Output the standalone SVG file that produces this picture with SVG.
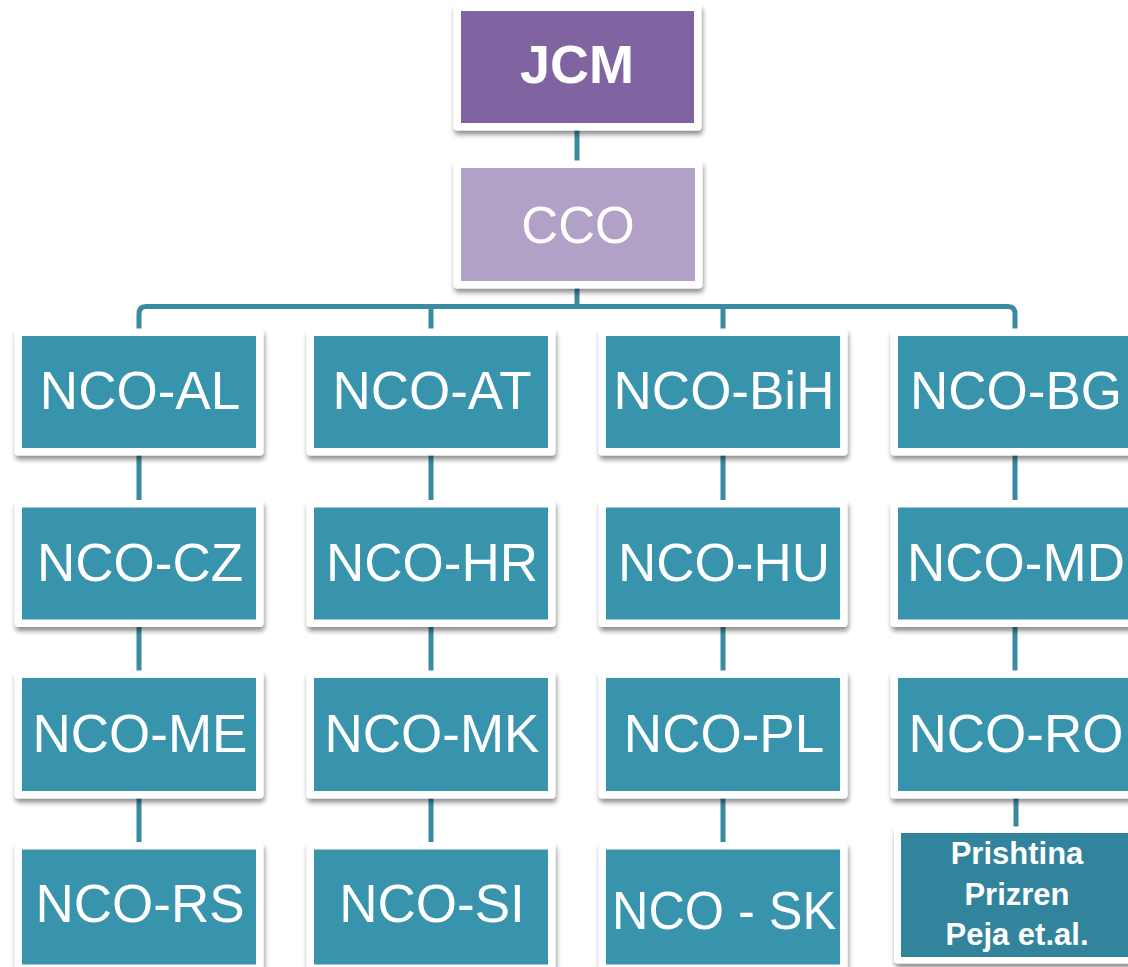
<svg xmlns="http://www.w3.org/2000/svg" width="1128" height="967" viewBox="0 0 1128 967">
<defs>
<filter id="sh" x="-10%" y="-10%" width="130%" height="140%">
<feGaussianBlur in="SourceAlpha" stdDeviation="2.5"/>
<feOffset dx="1" dy="4" result="o"/>
<feComponentTransfer><feFuncA type="linear" slope="0.45"/></feComponentTransfer>
<feMerge><feMergeNode/><feMergeNode in="SourceGraphic"/></feMerge>
</filter>
</defs>
<style>
.frame{fill:#ffffff;filter:url(#sh)}
.teal{fill:#3893AD}
.dark{fill:#31849B}
.lbl{font-family:"Liberation Sans",Arial,sans-serif;font-size:53px;fill:#ffffff;text-anchor:middle}
.small{font-family:"Liberation Sans",Arial,sans-serif;font-size:31px;font-weight:bold;fill:#ffffff;text-anchor:middle}
.conn{fill:none;stroke:#3A8AA1;stroke-width:5;stroke-linejoin:round}
</style>
<rect width="1128" height="967" fill="#ffffff"/>
<g id="connectors" class="conn">
<path d="M577,123 V306.5"/>
<path d="M139,340 V314 Q139,306.5 146,306.5 H1008 Q1015,306.5 1015,314 V340"/>
<path d="M431,306.5 V340"/>
<path d="M723,306.5 V340"/>
<path d="M139,448 V850"/>
<path d="M431,448 V850"/>
<path d="M723,448 V850"/>
<path d="M1015,448 V791"/>
<path d="M1016,798 V834"/>
</g>
<g id="jcm">
<rect class="frame" x="453.5" y="3.5" width="248" height="127" rx="4"/>
<rect x="461" y="11" width="233" height="112" fill="#8064A2"/>
<text x="577" y="83" class="lbl" style="font-weight:bold;font-size:54px">JCM</text>
</g>
<g id="cco">
<rect class="frame" x="453.5" y="160.5" width="249" height="128" rx="4"/>
<rect x="461" y="168" width="234" height="113" fill="#B2A1C7"/>
<text x="578" y="243" class="lbl" style="font-size:51px">CCO</text>
</g>
<g id="nco-al"><rect class="frame" x="14.5" y="328.5" width="249" height="127" rx="4"/><rect class="teal" x="22" y="336" width="234" height="112"/><text x="140" y="409" class="lbl">NCO-AL</text></g>
<g id="nco-at"><rect class="frame" x="306.5" y="328.5" width="249" height="127" rx="4"/><rect class="teal" x="314" y="336" width="234" height="112"/><text x="432" y="409" class="lbl">NCO-AT</text></g>
<g id="nco-bih"><rect class="frame" x="598.5" y="328.5" width="249" height="127" rx="4"/><rect class="teal" x="606" y="336" width="234" height="112"/><text x="724" y="409" class="lbl">NCO-BiH</text></g>
<g id="nco-bg"><rect class="frame" x="890.5" y="328.5" width="249" height="127" rx="4"/><rect class="teal" x="898" y="336" width="234" height="112"/><text x="1016" y="409" class="lbl">NCO-BG</text></g>
<g id="nco-cz"><rect class="frame" x="14.5" y="500" width="249" height="127" rx="4"/><rect class="teal" x="22" y="507.5" width="234" height="112"/><text x="140" y="581" class="lbl">NCO-CZ</text></g>
<g id="nco-hr"><rect class="frame" x="306.5" y="500" width="249" height="127" rx="4"/><rect class="teal" x="314" y="507.5" width="234" height="112"/><text x="432" y="581" class="lbl">NCO-HR</text></g>
<g id="nco-hu"><rect class="frame" x="598.5" y="500" width="249" height="127" rx="4"/><rect class="teal" x="606" y="507.5" width="234" height="112"/><text x="724" y="581" class="lbl">NCO-HU</text></g>
<g id="nco-md"><rect class="frame" x="890.5" y="500" width="249" height="127" rx="4"/><rect class="teal" x="898" y="507.5" width="234" height="112"/><text x="1016" y="581" class="lbl">NCO-MD</text></g>
<g id="nco-me"><rect class="frame" x="14.5" y="670.5" width="249" height="128" rx="4"/><rect class="teal" x="22" y="678" width="234" height="113"/><text x="140" y="752" class="lbl">NCO-ME</text></g>
<g id="nco-mk"><rect class="frame" x="306.5" y="670.5" width="249" height="128" rx="4"/><rect class="teal" x="314" y="678" width="234" height="113"/><text x="432" y="752" class="lbl">NCO-MK</text></g>
<g id="nco-pl"><rect class="frame" x="598.5" y="670.5" width="249" height="128" rx="4"/><rect class="teal" x="606" y="678" width="234" height="113"/><text x="724" y="752" class="lbl">NCO-PL</text></g>
<g id="nco-ro"><rect class="frame" x="890.5" y="670.5" width="249" height="128" rx="4"/><rect class="teal" x="898" y="678" width="234" height="113"/><text x="1016" y="752" class="lbl">NCO-RO</text></g>
<g id="nco-rs"><rect class="frame" x="14.5" y="842" width="249" height="130" rx="4"/><rect class="teal" x="22" y="849.5" width="234" height="115"/><text x="140" y="922" class="lbl">NCO-RS</text></g>
<g id="nco-si"><rect class="frame" x="306.5" y="842" width="249" height="130" rx="4"/><rect class="teal" x="314" y="849.5" width="234" height="115"/><text x="432" y="922" class="lbl">NCO-SI</text></g>
<g id="nco-sk"><rect class="frame" x="598.5" y="842" width="249" height="130" rx="4"/><rect class="teal" x="606" y="849.5" width="234" height="115"/><text x="724" y="929" class="lbl" textLength="224" lengthAdjust="spacingAndGlyphs">NCO - SK</text></g>
<g id="kosovo"><rect class="frame" x="894" y="826.5" width="249" height="137" rx="4"/><rect class="dark" x="901" y="833" width="234" height="124"/>
<text class="small"><tspan x="1017" y="864">Prishtina</tspan><tspan x="1017" y="905">Prizren</tspan><tspan x="1017" y="945">Peja et.al.</tspan></text></g>
</svg>
